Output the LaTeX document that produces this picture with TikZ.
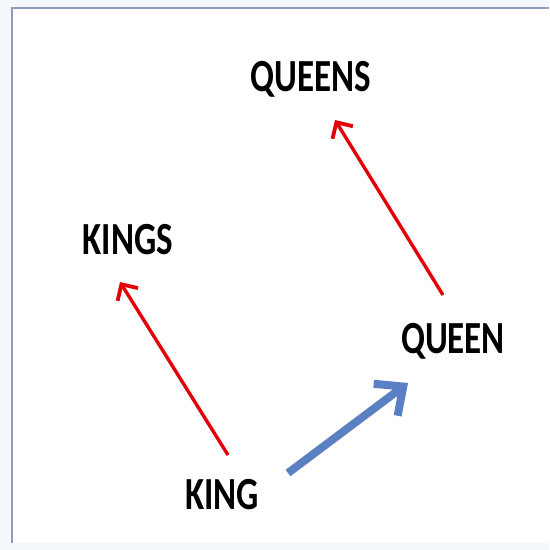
\documentclass[tikz,border=0pt]{standalone}
\usepackage{fontspec}
\usepackage{tikz}
\usetikzlibrary{arrows.meta}
\newfontfamily\wordfont[FakeStretch=0.76]{Carlito}
\definecolor{vecred}{HTML}{E3000B}
\definecolor{vecblue}{HTML}{5A7FC3}
\definecolor{framegray}{HTML}{8E9DBB}
\definecolor{pagetint}{HTML}{F4F7FB}

\begin{document}
\begin{tikzpicture}[x=1pt,y=-1pt,
      word/.style={inner sep=0pt,font=\wordfont\bfseries\fontsize{46}{46}\selectfont},
      redarr/.style={vecred,line width=3.4pt,
                     -{Straight Barb[length=12pt,width=24pt,line width=3.8pt]}},
      bluearr/.style={vecblue,line width=8pt,
                      -{Straight Barb[length=22pt,width=40pt]}}]
    \fill[pagetint] (0,0) rectangle (549,550);
    \fill[white] (12,8) rectangle (549,543);
    \draw[framegray,line width=1.4pt] (12,543) -- (12,8) -- (549,8);
    \useasboundingbox (0,0) rectangle (549,550);

    \node[word] (queens) at (311,79)  {QUEENS};
    \node[word] (kings)  at (128,240) {KINGS};
    \node[word] (queen)  at (453,341) {QUEEN};
    \node[word] (king)   at (222,495) {KING};

    \draw[redarr]  ([shift={(6,-40)}]king.center)  -- ([shift={(-8,42)}]kings.center);
    \draw[redarr]  ([shift={(-10,-46)}]queen.center) -- ([shift={(24,41)}]queens.center);
    \draw[bluearr] ([shift={(66,-22)}]king.center) -- ([shift={(-45,42)}]queen.center);
  \end{tikzpicture}
\end{document}
